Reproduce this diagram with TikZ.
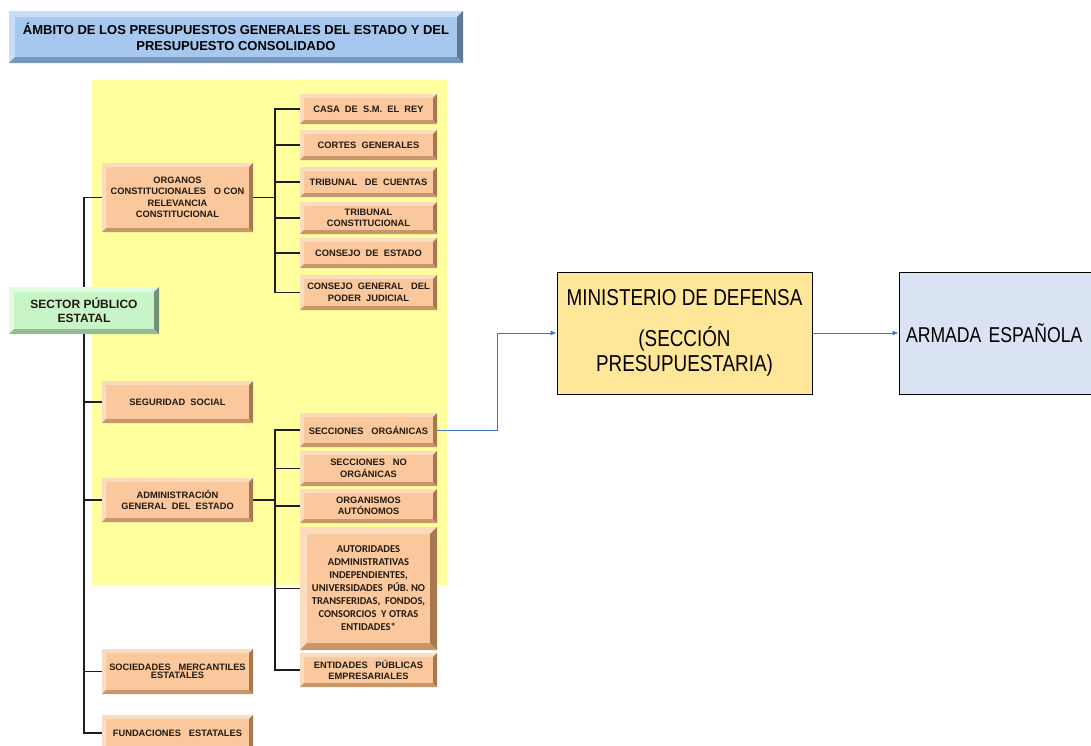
\documentclass[tikz,border=0pt]{standalone}
\usepackage{fontspec}
\setmainfont{Liberation Sans}
\newfontfamily\bx{Liberation Sans}
\newfontfamily\nar[FakeStretch=0.82]{Liberation Sans}
\newfontfamily\calfont{Carlito}
\usetikzlibrary{arrows.meta}
\pgfdeclarelayer{bgzero}
\pgfdeclarelayer{background}
\pgfsetlayers{bgzero,background,main}
\definecolor{yel}{RGB}{255,255,158}
\definecolor{peachF}{RGB}{250,200,156}
\definecolor{peachL}{RGB}{252,220,190}
\definecolor{peachD}{RGB}{165,120,80}
\definecolor{peachM}{RGB}{200,150,105}
\definecolor{grnF}{RGB}{200,245,200}
\definecolor{grnL}{RGB}{225,252,225}
\definecolor{grnD}{RGB}{115,145,115}
\definecolor{grnM}{RGB}{150,185,150}
\definecolor{bluF}{RGB}{166,200,238}
\definecolor{bluL}{RGB}{200,222,246}
\definecolor{bluD}{RGB}{95,120,150}
\definecolor{bluM}{RGB}{120,150,185}
\definecolor{txt}{RGB}{35,25,15}
\definecolor{gold}{RGB}{255,230,153}
\definecolor{lblue}{RGB}{218,227,243}
\definecolor{arrblue}{RGB}{68,114,196}
\newcommand{\bevdraw}[5]{%
\fill[#1] (path picture bounding box.north west) -- (path picture bounding box.north east) -- ([xshift=-#5,yshift=-#5]path picture bounding box.north east) -- ([xshift=#5,yshift=-#5]path picture bounding box.north west) -- cycle;
\fill[#2] (path picture bounding box.north west) -- ([xshift=#5,yshift=-#5]path picture bounding box.north west) -- ([xshift=#5,yshift=#5]path picture bounding box.south west) -- (path picture bounding box.south west) -- cycle;
\fill[#3] (path picture bounding box.north east) -- (path picture bounding box.south east) -- ([xshift=-#5,yshift=#5]path picture bounding box.south east) -- ([xshift=-#5,yshift=-#5]path picture bounding box.north east) -- cycle;
\fill[#4] (path picture bounding box.south west) -- (path picture bounding box.south east) -- ([xshift=-#5,yshift=#5]path picture bounding box.south east) -- ([xshift=#5,yshift=#5]path picture bounding box.south west) -- cycle;
}
\begin{document}
\begin{tikzpicture}[x=1pt,y=-1pt,
  pbox/.style={rectangle, fill=peachF, text=txt, align=center, inner sep=1pt,
    font=\bx\bfseries\fontsize{9.3}{11.5}\selectfont,
    path picture={\bevdraw{peachL}{peachL}{peachD}{peachM}{4pt}}},
  lbox/.style={pbox, minimum width=151},
  rbox/.style={pbox, minimum width=137},
  titlebox/.style={rectangle, fill=bluF, text=black, align=center, inner sep=1pt,
    minimum width=454, minimum height=52,
    font=\bx\bfseries\fontsize{13}{16}\selectfont,
    path picture={\bevdraw{bluL}{bluL}{bluD}{bluM}{6pt}}},
  gbox/.style={rectangle, fill=grnF, text=txt, align=center, inner sep=1pt,
    minimum width=150, minimum height=47,
    font=\bx\bfseries\fontsize{12}{14}\selectfont,
    path picture={\bevdraw{grnL}{grnL}{grnD}{grnM}{5pt}}},
  trunk/.style={draw={rgb,255:red,30;green,30;blue,30}, line width=1.6pt},
  bluearr/.style={draw=arrblue, line width=0.8pt, -{Latex[length=6pt,width=5pt]}},
  bigbox/.style={rectangle, draw=black, line width=1pt, minimum height=122,
    font=\nar\fontsize{23}{25}\selectfont}
]
\useasboundingbox (0,0) rectangle (1091,745);
\clip (0,0) rectangle (1091,745);
\begin{pgfonlayer}{bgzero}
\fill[white] (0,0) rectangle (1091,745);
\fill[yel] (92,80) rectangle (447,585);
\end{pgfonlayer}

\node[titlebox] (title) at (236,37) {ÁMBITO DE LOS PRESUPUESTOS GENERALES DEL ESTADO Y DEL\\PRESUPUESTO CONSOLIDADO};

\node[gbox] (sector) at (84,310.5) {SECTOR PÚBLICO\\ESTATAL};

\node[lbox, minimum height=69] (org) at (177.5,197.5) {ORGANOS\\CONSTITUCIONALES\ \ \ O CON\\RELEVANCIA\\CONSTITUCIONAL};
\node[lbox, minimum height=42] (seg) at (177.5,402) {SEGURIDAD\ \ SOCIAL};
\node[lbox, minimum height=44] (adm) at (177.5,500) {ADMINISTRACIÓN\\GENERAL\ \ DEL\ \ ESTADO};
\node[lbox, minimum height=45] (soc) at (177.5,671.5) {SOCIEDADES\ \ \ MERCANTILES\\[-3pt]ESTATALES};
\node[lbox, minimum height=36] (fund) at (177.5,733) {FUNDACIONES\ \ \ ESTATALES};

\node[rbox, minimum height=30] (casa) at (368.5,109) {CASA\ \ DE\ \ S.M.\ \ EL\ \ REY};
\node[rbox, minimum height=30] (cortes) at (368.5,145) {CORTES\ \ GENERALES};
\node[rbox, minimum height=30] (tcu) at (368.5,182) {TRIBUNAL\ \ \ DE\ \ CUENTAS};
\node[rbox, minimum height=32] (tco) at (368.5,218) {TRIBUNAL\\CONSTITUCIONAL};
\node[rbox, minimum height=30] (cde) at (368.5,253) {CONSEJO\ \ DE\ \ ESTADO};
\node[rbox, minimum height=35] (cgpj) at (368.5,292.5) {CONSEJO\ \ GENERAL\ \ \ DEL\\PODER\ \ JUDICIAL};

\node[rbox, minimum height=34] (sorg) at (368.5,430) {SECCIONES\ \ \ ORGÁNICAS};
\node[rbox, minimum height=35] (snorg) at (368.5,468.5) {SECCIONES\ \ \ NO\\ORGÁNICAS};
\node[rbox, minimum height=34] (oa) at (368.5,506) {ORGANISMOS\\AUTÓNOMOS};
\node[rbox, minimum height=123, font=\calfont\bfseries\fontsize{10.5}{13}\selectfont,
  path picture={\bevdraw{peachL}{peachL}{peachD}{peachM}{7pt}}] (aut) at (368.5,588.5)
  {AUTORIDADES\\ADMINISTRATIVAS\\INDEPENDIENTES,\\UNIVERSIDADES\ \ PÚB. NO\\TRANSFERIDAS,\ \ FONDOS,\\CONSORCIOS\ \ Y OTRAS\\ENTIDADES*};
\node[rbox, minimum height=34] (epe) at (368.5,670) {ENTIDADES\ \ \ PÚBLICAS\\EMPRESARIALES};

\node[bigbox, fill=gold, minimum width=255, align=center] (min) at (684.5,333)
  {MINISTERIO DE DEFENSA\\[16pt](SECCIÓN\\PRESUPUESTARIA)};
\node[bigbox, fill=lblue, text width=197, inner xsep=7, align=left,
  font=\nar\fontsize{21.5}{25}\selectfont] (arm) at (1004.5,333)
  {ARMADA ESPAÑOLA};

\begin{pgfonlayer}{background}
\draw[trunk] (sector.north) |- (org.west);
\draw[trunk] (sector.south) |- (fund.west);
\draw[trunk] (sector.south) |- (seg.west);
\draw[trunk] (sector.south) |- (adm.west);
\draw[trunk] (sector.south) |- (soc.west);
\draw[trunk] (org.east) -- ++(22,0) coordinate (t1);
\draw[trunk] (t1) |- (casa.west);
\draw[trunk] (t1) |- (cortes.west);
\draw[trunk] (t1) |- (tcu.west);
\draw[trunk] (t1) |- (tco.west);
\draw[trunk] (t1) |- (cde.west);
\draw[trunk] (t1) |- (cgpj.west);
\draw[trunk] (adm.east) -- ++(22,0) coordinate (t2);
\draw[trunk] (t2) |- (sorg.west);
\draw[trunk] (t2) |- (snorg.west);
\draw[trunk] (t2) |- (oa.west);
\draw[trunk] (t2) |- (aut.west);
\draw[trunk] (t2) |- (epe.west);
\draw[bluearr] (sorg.east) -- ++(60,0) |- (min.west);
\draw[bluearr] (min.east) -- (arm.west);
\end{pgfonlayer}
\end{tikzpicture}
\end{document}
